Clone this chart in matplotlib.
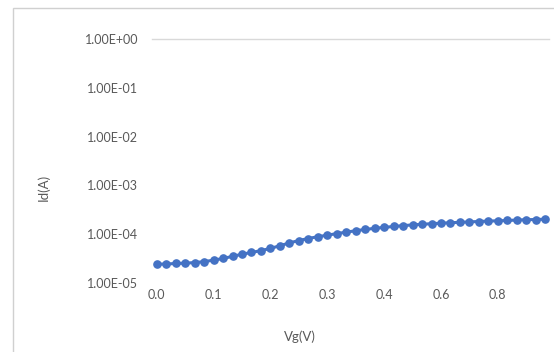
import numpy as np
import matplotlib
matplotlib.use("Agg")
import matplotlib.pyplot as plt
from matplotlib.patches import Rectangle

# Vg sweep, plotted as an evenly spaced category axis (like the Excel sheet)
tick_labels = ["0.0", "0.1", "0.2", "0.3", "0.4", "0.6", "0.8"]
tick_step = 6

id_values = [2.43e-5, 2.45e-5, 2.51e-5, 2.55e-5, 2.62e-5, 2.74e-5, 2.94e-5,
             3.18e-5, 3.52e-5, 3.88e-5, 4.23e-5, 4.61e-5, 5.11e-5, 5.81e-5,
             6.63e-5, 7.42e-5, 8.16e-5, 8.89e-5, 9.53e-5, 1.03e-4, 1.10e-4,
             1.18e-4, 1.25e-4, 1.32e-4, 1.38e-4, 1.44e-4, 1.50e-4, 1.55e-4,
             1.60e-4, 1.64e-4, 1.68e-4, 1.72e-4, 1.75e-4, 1.79e-4, 1.82e-4,
             1.86e-4, 1.88e-4, 1.91e-4, 1.95e-4, 1.98e-4, 2.00e-4, 2.03e-4]

y_ticks = [1e-5, 1e-4, 1e-3, 1e-2, 1e-1, 1e0]
y_tick_labels = ["1.00E-05", "1.00E-04", "1.00E-03", "1.00E-02", "1.00E-01", "1.00E+00"]

plt.rcParams['font.family'] = ['Lato', 'DejaVu Sans']
txt = '#595959'
blue = '#4472C4'

W, H = 554, 352
fig = plt.figure(figsize=(W/100, H/100), dpi=100)

# chart border
fig.patches.append(Rectangle((13/W, -0.05), 1.1, 1 - 8/H + 0.05, transform=fig.transFigure,
                             fill=False, edgecolor='#d0d0d0', lw=1.0))

ax = fig.add_axes([152/W, 1 - 283/H, (549-152)/W, (283-39)/H])
x = np.arange(len(id_values))
ax.plot(x, id_values, '-o', color=blue, lw=2.2, ms=5.2, mec=blue)

ax.set_yscale('log')
ax.set_ylim(1e-5, 1e0)
ax.set_xlim(-0.5, len(id_values) - 0.6)
ax.axhline(y_ticks[-1], color='#d9d9d9', lw=1.0, clip_on=False)

ax.set_yticks(y_ticks)
ax.set_yticklabels(y_tick_labels)
ax.yaxis.set_minor_locator(matplotlib.ticker.NullLocator())
ax.set_xticks(x[::tick_step])
ax.set_xticklabels(tick_labels)
ax.tick_params(axis='both', length=0, labelsize=9, labelcolor=txt)
ax.tick_params(axis='y', pad=10)
ax.tick_params(axis='x', pad=4)
for s in ax.spines.values():
    s.set_visible(False)

fig.text(43/W, 1 - 187/H, "Id(A)", rotation=90, ha='center', va='center', fontsize=9.5, color=txt)
fig.text(300/W, 1 - 337/H, "Vg(V)", ha='center', va='center', fontsize=9.5, color=txt)

fig.savefig("out.png", dpi=100)
